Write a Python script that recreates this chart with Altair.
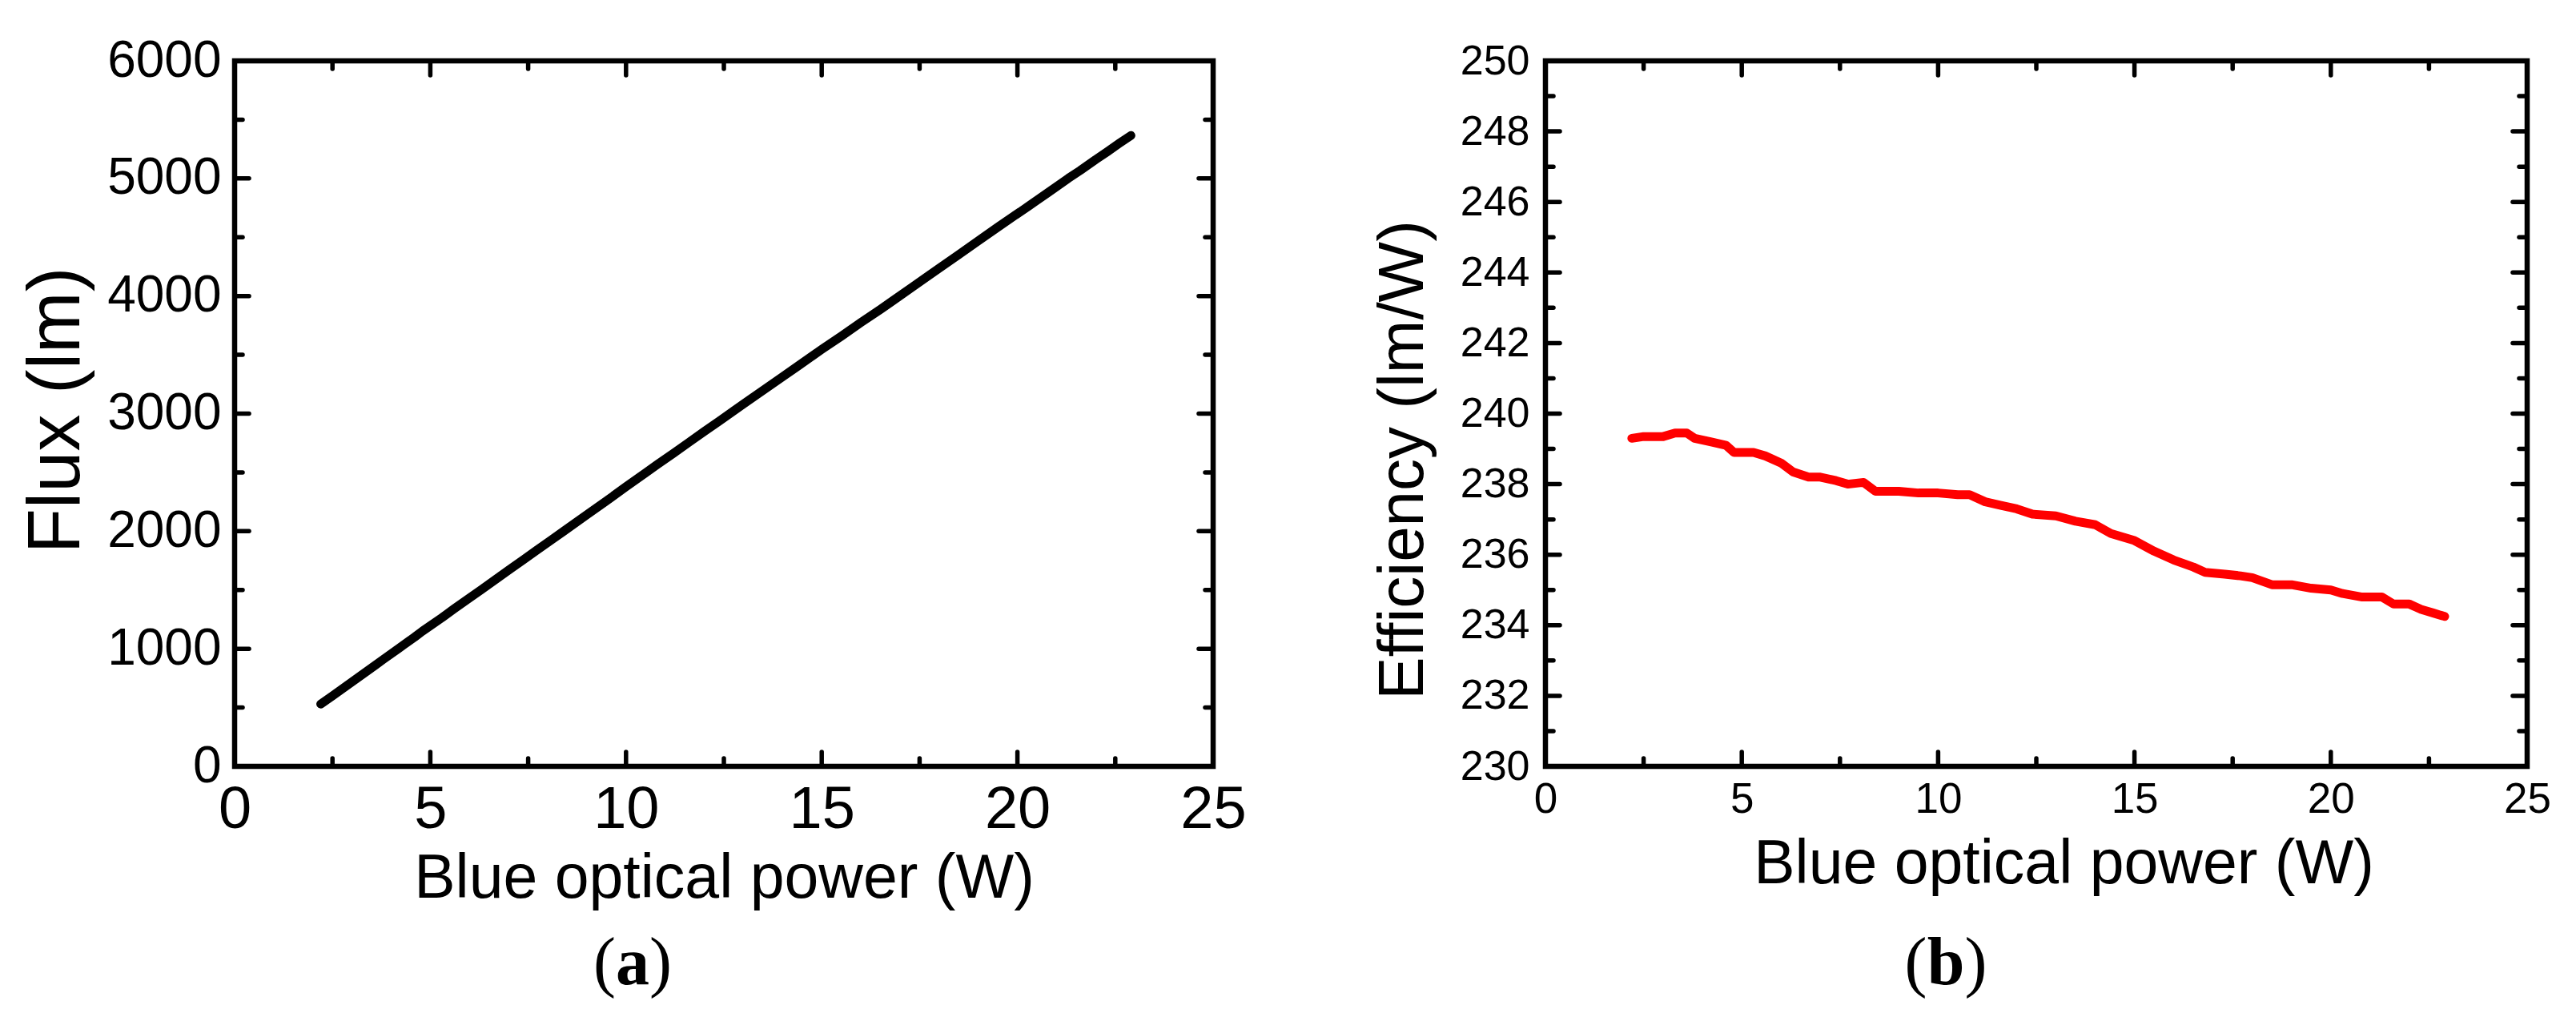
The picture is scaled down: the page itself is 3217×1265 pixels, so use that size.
import altair as alt
import pandas as pd

# ---------------- data ----------------
power = [2.2, 2.5, 3.0, 3.3, 3.6, 3.8, 4.2, 4.6, 4.8, 5.3, 5.6, 6.0, 6.3, 6.7, 7.0,
         7.4, 7.7, 8.1, 8.4, 9.0, 9.5, 10.0, 10.5, 10.8, 11.2, 11.6, 12.0, 12.4,
         13.0, 13.5, 14.0, 14.4, 15.0, 15.5, 16.0, 16.5, 16.8, 17.3, 17.7, 18.0,
         18.5, 19.0, 19.5, 20.0, 20.3, 20.8, 21.3, 21.6, 22.0, 22.3, 22.6, 22.9]

flux = [530, 600, 718, 790, 862, 910, 1005, 1100, 1150, 1265, 1338, 1432, 1502,
        1597, 1668, 1762, 1834, 1928, 1998, 2140, 2258, 2378, 2496, 2567, 2660,
        2754, 2848, 2941, 3082, 3198, 3314, 3406, 3546, 3658, 3774, 3886, 3956,
        4073, 4166, 4236, 4352, 4470, 4586, 4700, 4768, 4884, 5001, 5067, 5161,
        5228, 5298, 5365]

efficiency = [239.3, 239.35, 239.35, 239.45, 239.45, 239.3, 239.2, 239.1, 238.9,
              238.9, 238.8, 238.6, 238.35, 238.2, 238.2, 238.1, 238.0, 238.05,
              237.8, 237.8, 237.75, 237.75, 237.7, 237.7, 237.5, 237.4, 237.3,
              237.15, 237.1, 236.95, 236.85, 236.6, 236.4, 236.1, 235.85, 235.65,
              235.5, 235.45, 235.4, 235.35, 235.15, 235.15, 235.05, 235.0, 234.9,
              234.8, 234.8, 234.6, 234.6, 234.45, 234.35, 234.25]

x_major = [0, 5, 10, 15, 20, 25]
x_minor = [2.5, 7.5, 12.5, 17.5, 22.5]
flux_major = [0, 1000, 2000, 3000, 4000, 5000, 6000]
flux_minor = [500, 1500, 2500, 3500, 4500, 5500]
eff_major = [230, 232, 234, 236, 238, 240, 242, 244, 246, 248, 250]
eff_minor = [231, 233, 235, 237, 239, 241, 243, 245, 247, 249]

x_title = "Blue optical power (W)"
flux_title = "Flux (lm)"
eff_title = "Efficiency (lm/W)"

FONT = "Liberation Sans"
SERIF = "Liberation Serif"


def panel(yvals, ytitle, color, ydom, ymaj, ymin, W, H,
          xlab_size, ylab_size, xlab_pad, ylab_pad, title_size_x, title_size_y,
          xtitle_x, xtitle_y, ytitle_x, ytitle_y, letter, letter_x, letter_w):
    df = pd.DataFrame({"p": power, "v": yvals})
    xs = alt.Scale(domain=[0, 25], nice=False, zero=False)
    ys = alt.Scale(domain=ydom, nice=False, zero=False)
    xaxis = alt.Axis(
        values=x_major, title=x_title, ticks=False, domain=False, grid=False,
        labelFont=FONT, labelFontSize=xlab_size, labelColor="black",
        labelPadding=xlab_pad, labelFlush=False, labelOverlap=False,
        labelBound=False, format="d",
        titleFont=FONT, titleFontSize=title_size_x, titleFontWeight="normal",
        titleColor="black", titleBaseline="alphabetic",
        titleX=xtitle_x, titleY=xtitle_y, titleAlign="center")
    yaxis = alt.Axis(
        values=ymaj, title=ytitle, ticks=False, domain=False, grid=False,
        labelFont=FONT, labelFontSize=ylab_size, labelColor="black",
        labelPadding=ylab_pad, labelFlush=False, labelOverlap=False,
        labelBound=False, format="d",
        titleFont=FONT, titleFontSize=title_size_y, titleFontWeight="normal",
        titleColor="black", titleBaseline="alphabetic", titleAngle=270,
        titleX=ytitle_x, titleY=ytitle_y, titleAlign="center")

    line = alt.Chart(df).mark_line(color=color, strokeWidth=11, strokeCap="round",
                                   strokeJoin="round", clip=False).encode(
        x=alt.X("p:Q", scale=xs, axis=xaxis),
        y=alt.Y("v:Q", scale=ys, axis=yaxis),
    )

    layers = [line]
    tw = 5.5
    for vals, ln in ((x_major, 18), (x_minor, 10)):
        d = pd.DataFrame({"t": vals})
        base = alt.Chart(d).mark_rule(color="black", strokeWidth=tw, strokeCap="round")
        layers.append(base.encode(x=alt.X("t:Q", scale=xs, axis=xaxis),
                                  y=alt.value(H), y2=alt.value(H - ln)))
        layers.append(base.encode(x=alt.X("t:Q", scale=xs, axis=xaxis),
                                  y=alt.value(0), y2=alt.value(ln)))
    for vals, ln in ((ymaj, 18), (ymin, 10)):
        d = pd.DataFrame({"t": vals})
        base = alt.Chart(d).mark_rule(color="black", strokeWidth=tw, strokeCap="round")
        layers.append(base.encode(y=alt.Y("t:Q", scale=ys, axis=yaxis),
                                  x=alt.value(0), x2=alt.value(ln)))
        layers.append(base.encode(y=alt.Y("t:Q", scale=ys, axis=yaxis),
                                  x=alt.value(W), x2=alt.value(W - ln)))

    one = pd.DataFrame({"k": [0]})
    ly = 1153
    layers.append(alt.Chart(one).mark_text(font=SERIF, fontSize=84, align="right",
                                           baseline="alphabetic", color="black").encode(
        x=alt.value(letter_x - letter_w / 2), y=alt.value(ly), text=alt.value("(")))
    layers.append(alt.Chart(one).mark_text(font=SERIF, fontSize=84, fontWeight="bold",
                                           align="center", baseline="alphabetic",
                                           color="black").encode(
        x=alt.value(letter_x), y=alt.value(ly), text=alt.value(letter)))
    layers.append(alt.Chart(one).mark_text(font=SERIF, fontSize=84, align="left",
                                           baseline="alphabetic", color="black").encode(
        x=alt.value(letter_x + letter_w / 2), y=alt.value(ly), text=alt.value(")")))

    return alt.layer(*layers).properties(width=W, height=H)


left = panel(flux, flux_title, "black", [0, 6000], flux_major, flux_minor,
             1222, 881, 74, 64, 18, 17, 77, 92,
             611, 163, -195, 436, "a", 497, 42)
right = panel(efficiency, eff_title, "#ff0000", [230, 250], eff_major, eff_minor,
              1226, 881, 53, 52, 15, 20, 77, 80,
              647, 145, -154, 498, "b", 500, 47)

chart = alt.hconcat(left, right, spacing=415, bounds="flush").properties(
    padding={"left": 12, "top": 32, "right": 0, "bottom": 0},
    background="white",
).configure_view(stroke="black", strokeWidth=6.5)

chart.save("out.html", embed_options={"renderer": "svg", "actions": False})
